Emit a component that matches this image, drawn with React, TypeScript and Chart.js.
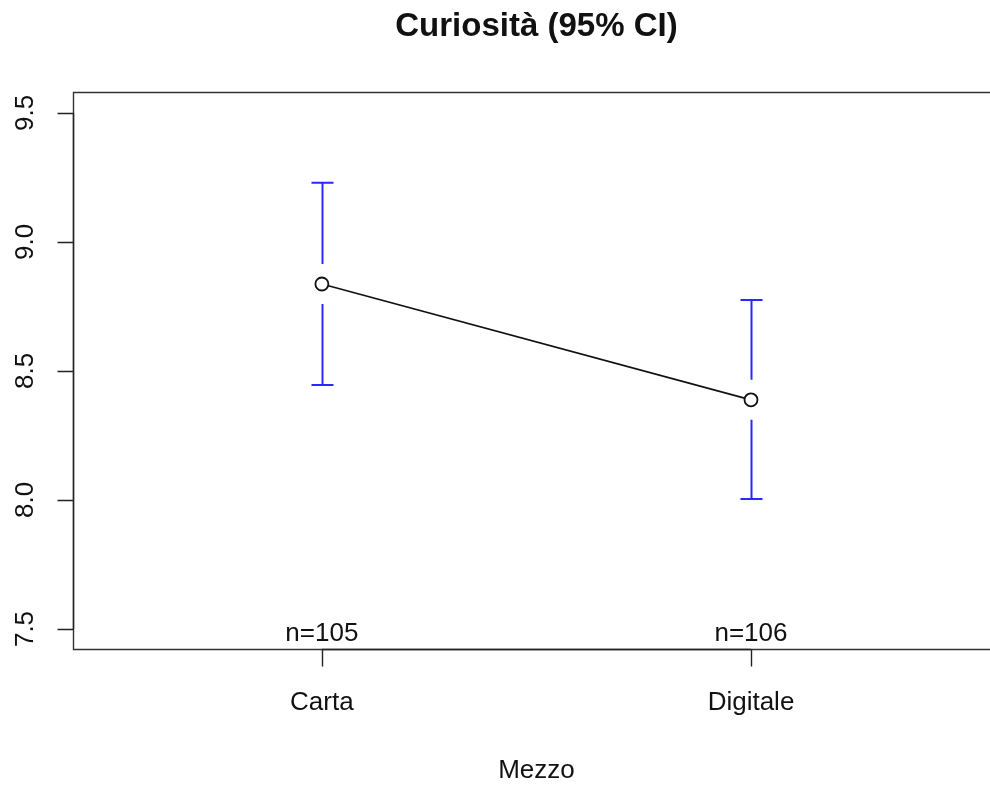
import React, { useEffect, useRef } from "react";
import { Chart, registerables } from "chart.js";

Chart.register(...registerables);

const categories = ["Carta", "Digitale"];
const means = [8.837, 8.388];
const ciLower = [8.446, 8.004];
const ciUpper = [9.229, 8.775];
const nCounts = [105, 106];
const yTicks = [7.5, 8.0, 8.5, 9.0, 9.5];
const titleText = "Curiosità (95% CI)";
const xTitle = "Mezzo";

const FONT = '"Liberation Sans", Arial, Helvetica, sans-serif';

const rPlot = {
  id: "rPlot",
  beforeDatasetsDraw(chart: any) {
    const { ctx, chartArea, scales } = chart;
    const xs = scales.x;
    const ys = scales.y;
    ctx.save();
    // box
    ctx.strokeStyle = "#333";
    ctx.lineWidth = 1.4;
    ctx.beginPath();
    ctx.moveTo(chartArea.right + 20, chartArea.top + 0.5);
    ctx.lineTo(chartArea.left + 0.5, chartArea.top + 0.5);
    ctx.lineTo(chartArea.left + 0.5, chartArea.bottom + 0.5);
    ctx.lineTo(chartArea.right + 20, chartArea.bottom + 0.5);
    ctx.stroke();
    // error bars
    ctx.strokeStyle = "rgb(40,40,255)";
    ctx.lineWidth = 2;
    const gap = 20;
    const cap = 11;
    means.forEach((m, i) => {
      const px = Math.round(xs.getPixelForValue(i + 1)) + 0.5;
      const pm = ys.getPixelForValue(m);
      const pu = ys.getPixelForValue(ciUpper[i]);
      const pl = ys.getPixelForValue(ciLower[i]);
      ctx.beginPath();
      ctx.moveTo(px, pu);
      ctx.lineTo(px, pm - gap);
      ctx.moveTo(px, pm + gap);
      ctx.lineTo(px, pl);
      ctx.moveTo(px - cap, pu);
      ctx.lineTo(px + cap, pu);
      ctx.moveTo(px - cap, pl);
      ctx.lineTo(px + cap, pl);
      ctx.stroke();
    });
    ctx.restore();
  },
  afterDraw(chart: any) {
    const { ctx, chartArea, scales } = chart;
    const xs = scales.x;
    const ys = scales.y;
    ctx.save();
    ctx.strokeStyle = "#222";
    ctx.lineWidth = 1.4;
    // y axis
    const yTop = ys.getPixelForValue(yTicks[yTicks.length - 1]);
    const yBot = ys.getPixelForValue(yTicks[0]);
    const ax = chartArea.left + 0.5;
    ctx.beginPath();
    ctx.moveTo(ax, yTop);
    ctx.lineTo(ax, yBot);
    yTicks.forEach((t) => {
      const py = Math.round(ys.getPixelForValue(t)) + 0.5;
      ctx.moveTo(ax - 16, py);
      ctx.lineTo(ax, py);
    });
    // x axis
    const ay = chartArea.bottom + 0.5;
    const x1 = xs.getPixelForValue(1);
    const x2 = xs.getPixelForValue(categories.length);
    ctx.moveTo(x1, ay);
    ctx.lineTo(x2, ay);
    categories.forEach((_, i) => {
      const px = Math.round(xs.getPixelForValue(i + 1)) + 0.5;
      ctx.moveTo(px, ay);
      ctx.lineTo(px, ay + 17);
    });
    ctx.stroke();

    ctx.fillStyle = "#111";
    ctx.font = `26px ${FONT}`;
    ctx.textAlign = "center";
    ctx.textBaseline = "alphabetic";
    // y tick labels rotated
    yTicks.forEach((t) => {
      const py = ys.getPixelForValue(t);
      ctx.save();
      ctx.translate(33, py);
      ctx.rotate(-Math.PI / 2);
      ctx.fillText(t.toFixed(1), 0, 0);
      ctx.restore();
    });
    // x tick labels
    categories.forEach((c, i) => {
      ctx.fillText(c, xs.getPixelForValue(i + 1), 710);
    });
    // n labels
    nCounts.forEach((n, i) => {
      ctx.fillText(`n=${n}`, xs.getPixelForValue(i + 1), 641);
    });
    const cx = xs.getPixelForValue(1.5);
    ctx.fillText(xTitle, cx, 778);
    ctx.font = `bold 33px ${FONT}`;
    ctx.fillText(titleText, cx, 36);
    ctx.restore();
  },
};

export default function App() {
  const ref = useRef<HTMLCanvasElement>(null);
  useEffect(() => {
    if (!ref.current) return;
    const chart = new Chart(ref.current, {
      type: "line",
      data: {
        datasets: [
          {
            data: means.map((m, i) => ({ x: i + 1, y: m })),
            borderColor: "#111",
            borderWidth: 1.6,
            pointRadius: 6.5,
            pointBorderWidth: 1.8,
            pointBorderColor: "#111",
            pointBackgroundColor: "#fff",
            tension: 0,
            fill: false,
          },
        ],
      },
      options: {
        responsive: false,
        animation: false,
        devicePixelRatio: 1,
        layout: { autoPadding: false, padding: { left: 73, top: 92, right: 0, bottom: 136 } },
        plugins: {
          legend: { display: false },
          tooltip: { enabled: false },
          title: { display: false },
        },
        scales: {
          x: { type: "linear", min: 0.42, max: 2.557, display: false },
          y: { type: "linear", min: 7.4225, max: 9.581, display: false },
        },
      },
      plugins: [rPlot],
    });
    return () => chart.destroy();
  }, []);
  return (
    <div style={{ position: "fixed", left: 0, top: 0, width: 990, height: 785, background: "#fff" }}>
      <canvas ref={ref} width={990} height={785} style={{ display: "block" }} />
    </div>
  );
}
